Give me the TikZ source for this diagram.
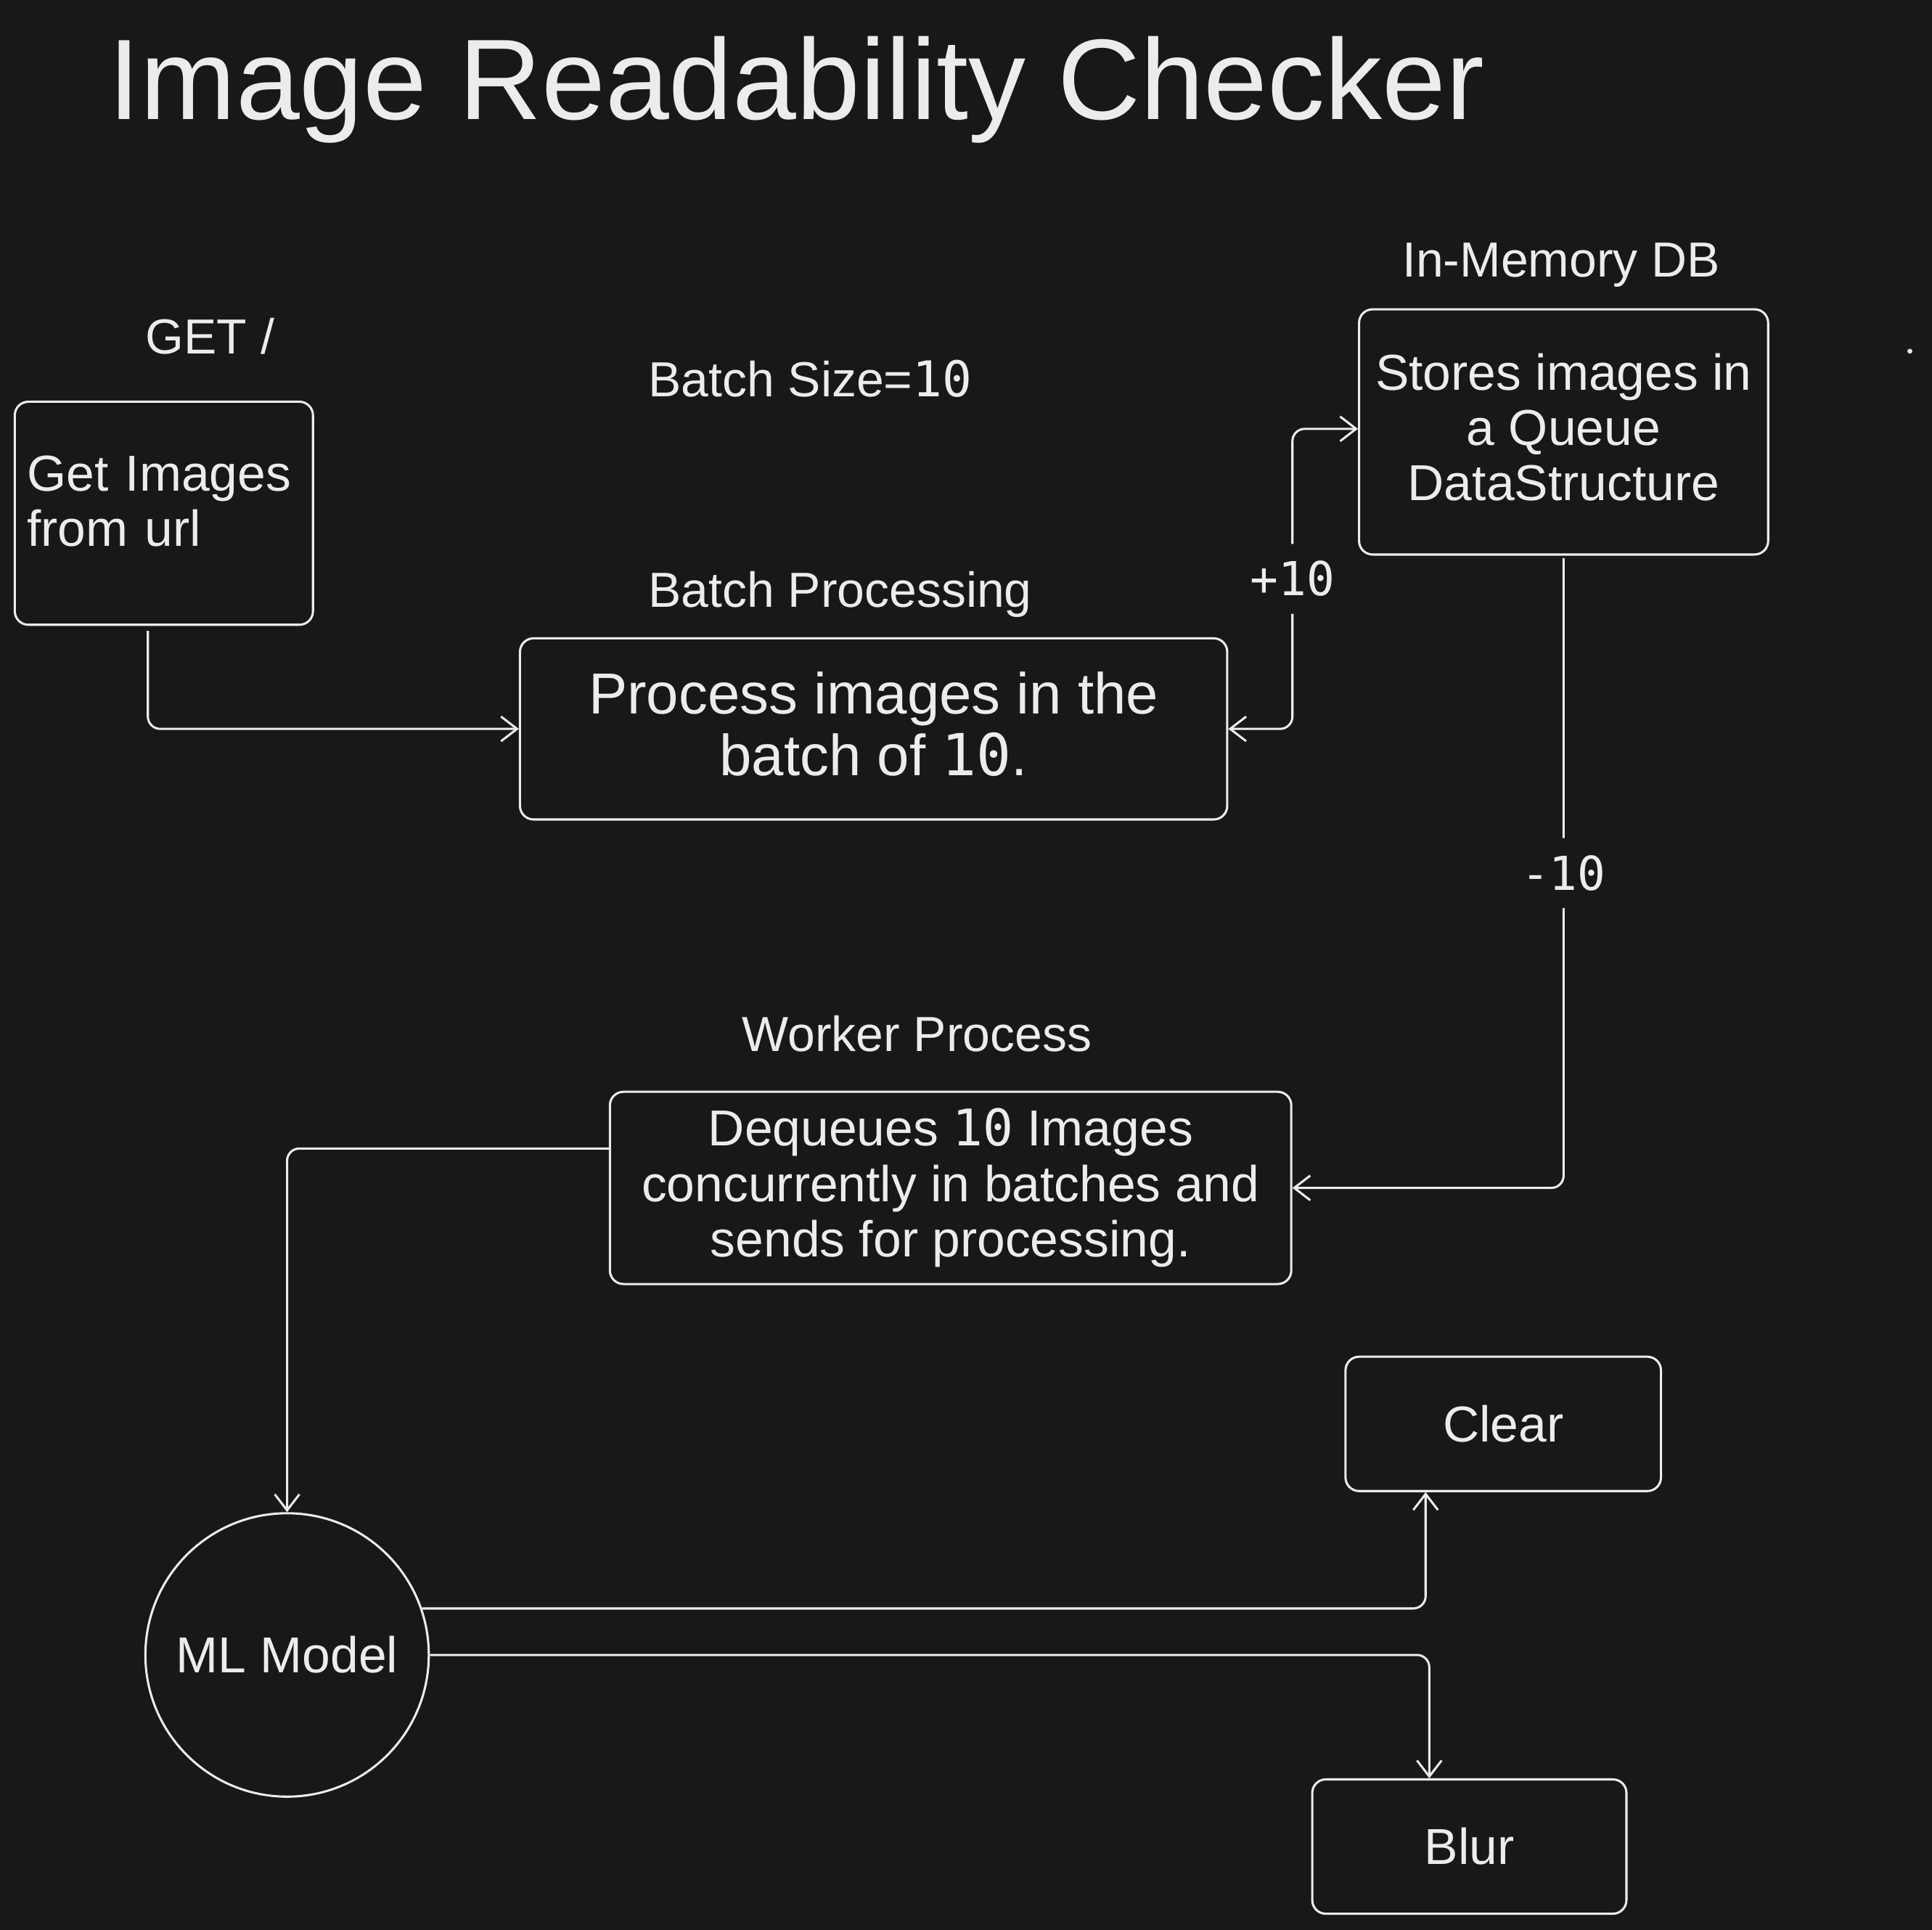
\documentclass[tikz,border=0pt]{standalone}
\usepackage{fontspec}
\setmainfont{Liberation Sans}
\newfontfamily\monodigits{DejaVu Sans Mono}
\usepackage{tikz}
\usetikzlibrary{arrows, arrows.meta}
\definecolor{board}{RGB}{24,24,24}
\definecolor{chalk}{RGB}{236,236,236}
\tikzset{
	heading/.style={text=chalk, inner sep=0pt, anchor=base west, font=\fontsize{93}{100}\selectfont},
	caption/.style={text=chalk, inner sep=0pt, anchor=base west, font=\fontsize{40}{45}\selectfont},
	box/.style={draw=chalk, line width=1.8pt, rounded corners=11pt, text=chalk, inner sep=0pt, align=center, font=\fontsize{41}{45}\selectfont},
	link/.style={draw=chalk, line width=1.8pt, rounded corners=10pt, -{Straight Barb[length=13pt, width=20pt, line width=1.8pt]}},
	tag/.style={fill=board, text=chalk, inner xsep=4pt, inner ysep=14pt, font=\fontsize{38}{40}\monodigits}
}

\begin{document}
\begin{tikzpicture}[x=1pt, y=-1pt]
			\fill[board] (0,0) rectangle (1568,1566);
			\node[heading] (title) at (88,97) {Image Readability Checker};
			\node[caption] (getlbl) at (118,287) {GET /};
			\node[caption] (sizelbl) at (526,322) {Batch Size={\monodigits 10}};
			\node[caption] (batchlbl) at (526,493) {Batch Processing};
			\node[caption] (dblbl) at (1138,225) {In-Memory DB};
			\node[caption] (workerlbl) at (602,853) {Worker Process};
			\node[box, minimum width=242, minimum height=181, text width=222, align=left, text depth=65pt] (get) at (133,416.5) {Get Images\\from url};
			\node[box, minimum width=574, minimum height=147, text depth=8pt, font=\fontsize{47}{50}\selectfont] (batch) at (709,591.5) {Process images in the\\batch of {\monodigits 10}.};
			\node[box, minimum width=332, minimum height=199, text depth=8pt] (store) at (1269,350.5) {Stores images in\\a Queue\\DataStructure};
			\node[box, minimum width=553, minimum height=156] (worker) at (771.5,964) {Dequeues {\monodigits 10} Images\\concurrently in batches and\\sends for processing.};
			\node[box, minimum width=256, minimum height=109] (clear) at (1220,1155.5) {Clear};
			\node[box, minimum width=255, minimum height=109] (blur) at (1192.5,1498.5) {Blur};
			\node[box, circle, minimum size=230] (model) at (233,1343) {ML Model};
			\fill[chalk] (1550,285) circle (2pt);
			\draw[link] ([xshift=-13pt, yshift=-4pt]get.south) |- (batch.west);
			\draw[link, {Straight Barb[length=13pt, width=20pt, line width=1.8pt]}-{Straight Barb[length=13pt, width=20pt, line width=1.8pt]}] (batch.east) -- ++(52,0) |- node[tag, pos=0.25] (plus) {+10} ([yshift=2.5pt]store.west);
			\draw[link] ([yshift=-2pt]store.south) |- node[tag, pos=0.25] (minus) {-10} (worker.east);
			\draw[link] ([yshift=32pt]worker.west) -| (model.north);
			\draw[link] (model.19) -| ([xshift=-63pt]clear.south);
			\draw[link] (model.east) -| ([xshift=-32.5pt]blur.north);
		\end{tikzpicture}
\end{document}
